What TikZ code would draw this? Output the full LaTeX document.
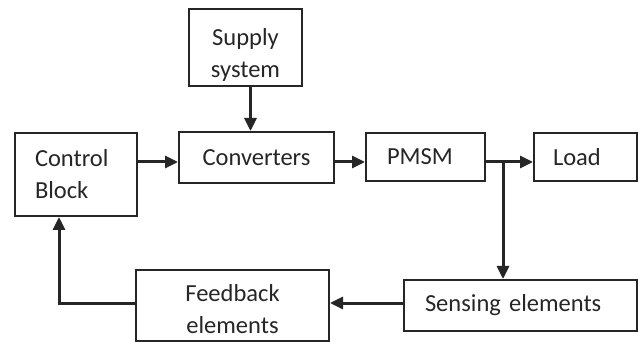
\documentclass[tikz,border=0pt]{standalone}
\usepackage{fontspec}
\setmainfont{Carlito}
\usetikzlibrary{arrows.meta}

\begin{document}
\begin{tikzpicture}[x=1pt, y=-1pt,
        blk/.style={draw=black!85, line width=2pt, inner sep=0pt, text=black!85,
            font=\fontsize{24.5}{32}\selectfont},
        flow/.style={draw=black!85, line width=3pt, -{Triangle[length=13pt, width=12pt]}}]
        \useasboundingbox (0, 0) rectangle (638, 342);

        % blocks
        \node[blk, minimum width=113pt, minimum height=77pt, align=center] (supply) at (245.5, 47.5) {\rule{0pt}{32pt}Supply\\system};
        \node[blk, minimum width=122pt, minimum height=83pt, inner xsep=20pt, text width=82pt, align=left] (ctrl) at (76, 174.5) {Control\\Block};
        \node[blk, minimum width=155pt, minimum height=51pt] (conv) at (256.5, 157.5) {Converters};
        \node[blk, minimum width=119pt, minimum height=48pt, inner xsep=21pt, text width=77pt, align=left] (pmsm) at (425.5, 157) {PMSM};
        \node[blk, minimum width=103pt, minimum height=48pt, inner xsep=19pt, text width=65pt, align=left] (load) at (585.5, 157) {Load};
        \node[blk, minimum width=233pt, minimum height=51pt, inner xsep=21pt, text width=191pt, align=left] (sense) at (520.5, 305.5) {Sensing elements};
        \node[blk, minimum width=193pt, minimum height=71pt, align=center] (fb) at (232.5, 305.5) {\rule{0pt}{24pt}Feedback\\elements};

        \coordinate (row) at (0, 162);
        \coordinate (tap) at (503, 162);
        \coordinate (back) at (0, 303);
        \coordinate (bend) at (59, 303);

        % connectors
        \draw[flow] ([xshift=5pt]supply.south) -- ([xshift=5pt]supply.south |- conv.north);
        \draw[flow] (ctrl.east |- row) -- (conv.west |- row);
        \draw[flow] (conv.east |- row) -- (pmsm.west |- row);
        \draw[flow] ([xshift=-2pt]pmsm.east |- row) -- (load.west |- row);
        \draw[flow] (tap) -- (tap |- sense.north);
        \draw[flow] (sense.west |- back) -- (fb.east |- back);
        \draw[flow] (fb.west |- back) -- (bend) -- (bend |- ctrl.south);
    \end{tikzpicture}
\end{document}
